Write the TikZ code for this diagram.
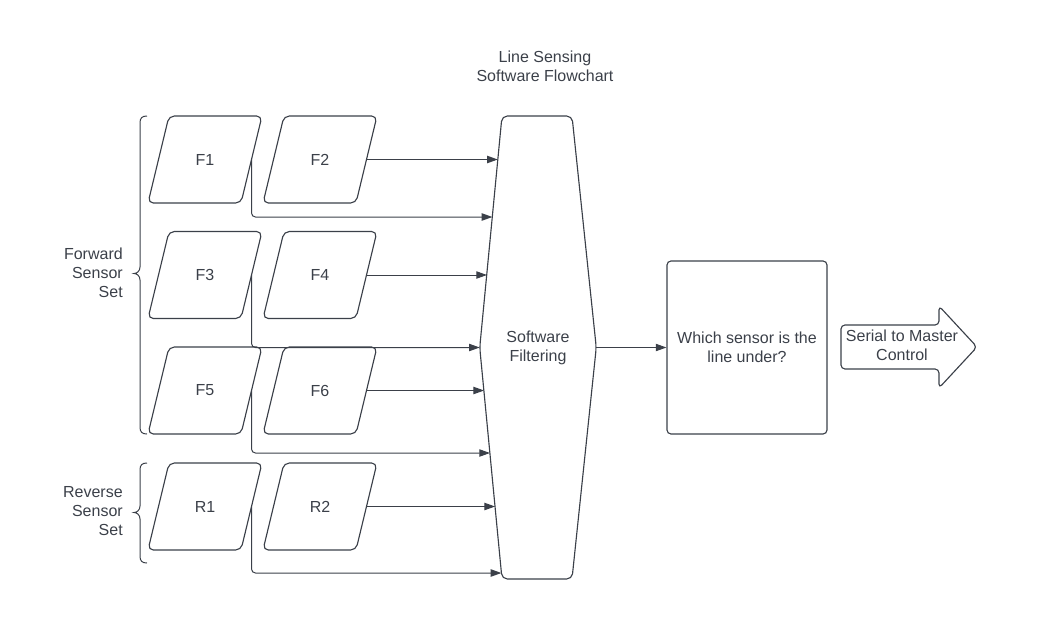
\documentclass[tikz,border=0pt]{standalone}
\usepackage{fontspec}
\setmainfont{Liberation Sans}
\usetikzlibrary{arrows.meta,calc}
\definecolor{ink}{HTML}{3B4049}
\begin{document}
\begin{tikzpicture}[x=0.75pt,y=-0.75pt,
  every node/.style={text=ink,font=\fontsize{12}{14.4}\selectfont,inner sep=0pt},
  outline/.style={draw=ink,line width=0.85pt,rounded corners=4,line join=round},
  conn/.style={draw=ink,line width=0.75pt,-{Triangle[length=8pt,width=5.5pt]}},
  branch/.style={conn,rounded corners=3},
  brace/.style={draw=ink,line width=0.75pt},
  lbl/.style={align=right,anchor=east},
  sensor/.style={minimum width=85.5pt,minimum height=65.25pt}]
\useasboundingbox (0,0) rectangle (1040,622);

% title
\node[align=center] (title) at (545,66) {Line Sensing\\Software Flowchart};

% sensors
\node[sensor] (F1) at (205,159.5) {F1};
\node[sensor] (F2) at (320,159.5) {F2};
\node[sensor] (F3) at (205,275) {F3};
\node[sensor] (F4) at (320,275) {F4};
\node[sensor] (F5) at (205,390.5) {F5};
\node[sensor] (F6) at (320,390.5) {F6};
\node[sensor] (R1) at (205,506.5) {R1};
\node[sensor] (R2) at (320,506.5) {R2};
\foreach \n in {F1,F2,F3,F4,F5,F6,R1,R2}{
  \draw[outline] ($(\n)+(-36,-43.5)$) -- ($(\n)+(57,-43.5)$) -- ($(\n)+(36,43.5)$) -- ($(\n)+(-57,43.5)$) -- cycle;
  \coordinate (\n r) at ($(\n)+(46.5,0)$);
}

% software filtering hexagon
\node[align=center,minimum width=87pt,minimum height=347.25pt] (SF) at (538,347.5) {Software\\Filtering};
\draw[outline,rounded corners=4] ($(SF)+(-36,-231.5)$) -- ($(SF)+(34,-231.5)$) -- (SF.east) -- ($(SF)+(34,231.5)$) -- ($(SF)+(-36,231.5)$) -- (SF.west) -- cycle;

% entry points on the hexagon's left edge
\coordinate (in1) at (497.8,160);
\coordinate (in2) at (492.4,217);
\coordinate (in3) at (487.0,275);
\coordinate (in5) at (484.1,390.5);
\coordinate (in6) at (490.0,453);
\coordinate (in7) at (495.1,506.5);
\coordinate (in8) at (501.4,573);

% connectors
\draw[conn] (F2r) -- (F2r -| in1);
\draw[branch] (F1r) |- (in2);
\draw[conn] (F4r) -- (F4r -| in3);
\draw[branch] (F3r) |- (SF.west);
\draw[conn] (F6r) -- (F6r -| in5);
\draw[branch] (F5r) |- (in6);
\draw[conn] (R2r) -- (R2r -| in7);
\draw[branch] (R1r) |- (in8);

% decision box
\node[draw=ink,line width=0.85pt,rounded corners=3,minimum width=120pt,minimum height=129.75pt,align=center] (W) at (747,347.5) {Which sensor is the\\line under?};
\draw[conn] (SF.east) -- (W.west);

% output arrow
\node[align=center] (S) at (902,345) {Serial to Master\\Control};
\draw[outline,rounded corners=3] (939,325) -- (939,306) -- (977,347) -- (939,388) -- (939,369) -- (841,369) -- (841,325) -- cycle;

% braces and labels
\draw[brace] (147,116) .. controls (142,116) and (140,118) .. (140,123) -- (140,267)
  .. controls (140,271) and (137,273.5) .. (134,273.5)
  .. controls (137,273.5) and (140,276) .. (140,280) -- (140,427)
  .. controls (140,432) and (142,434) .. (147,434);
\node[lbl] (fwd) at (123,273) {Forward\\Sensor\\Set};
\draw[brace] (147,463) .. controls (142,463) and (140,465) .. (140,470) -- (140,506)
  .. controls (140,510) and (137,512.5) .. (134,512.5)
  .. controls (137,512.5) and (140,515) .. (140,519) -- (140,556)
  .. controls (140,561) and (142,563) .. (147,563);
\node[lbl] (rev) at (123,511) {Reverse\\Sensor\\Set};
\end{tikzpicture}
\end{document}
